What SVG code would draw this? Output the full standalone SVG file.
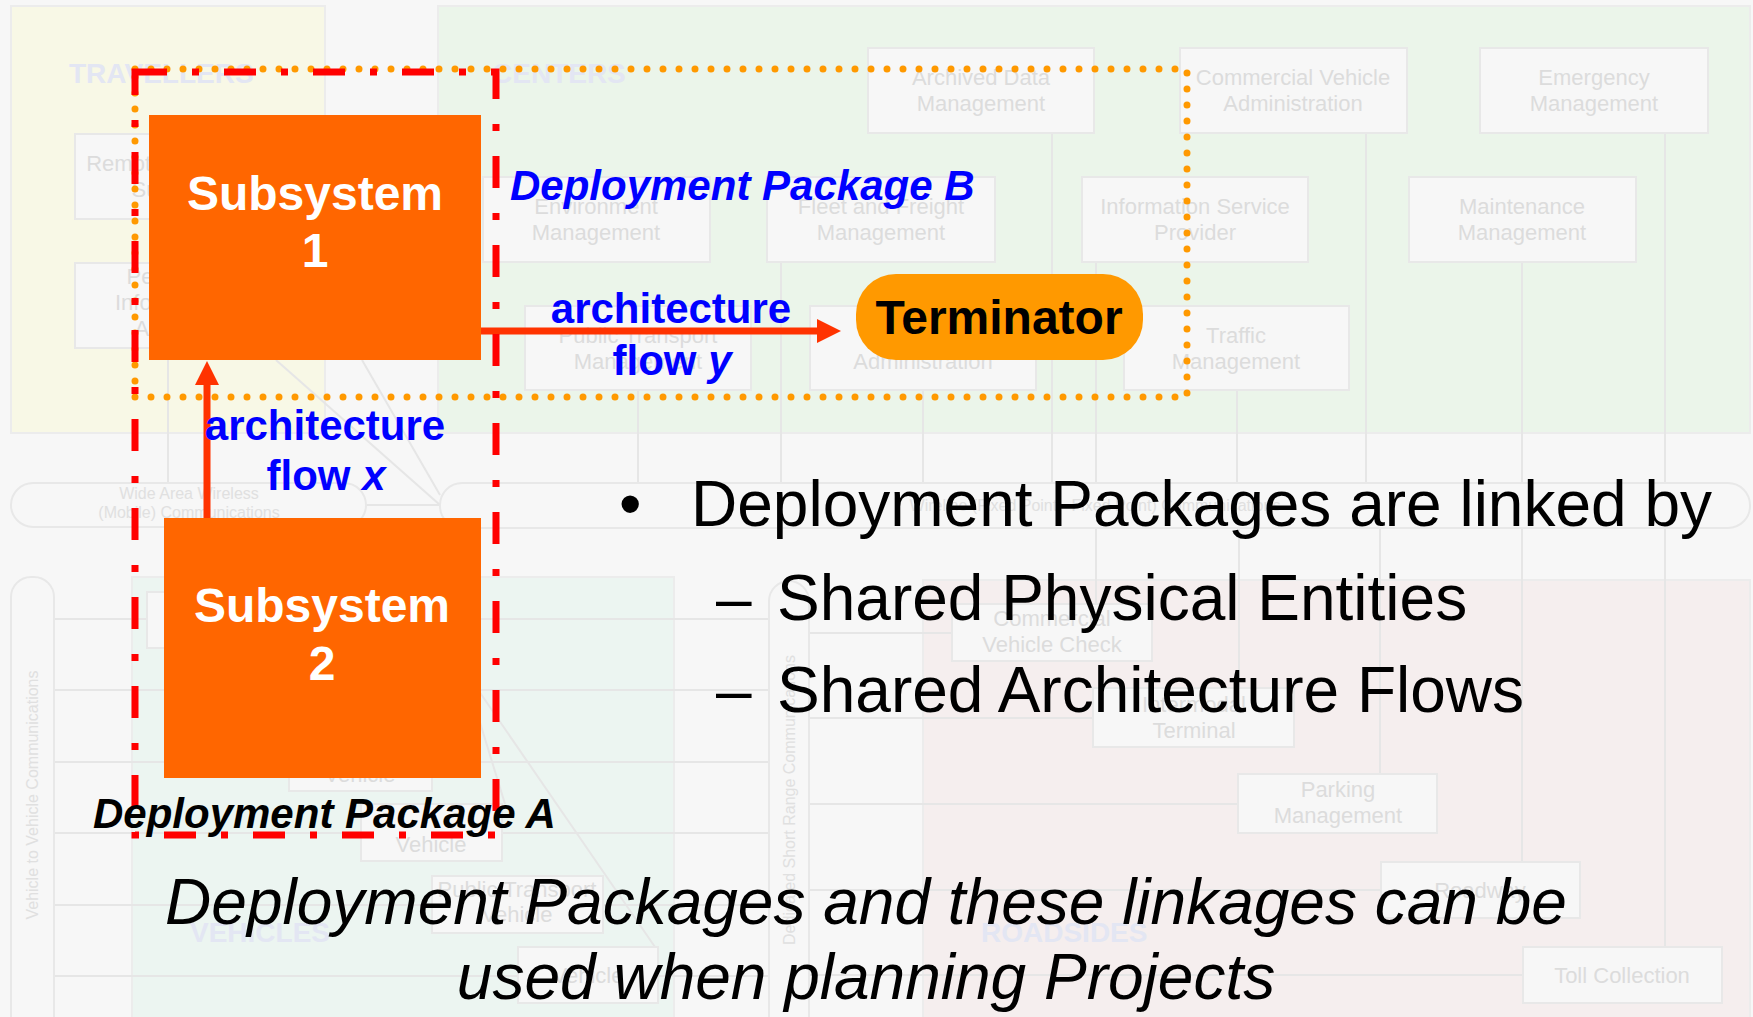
<svg xmlns="http://www.w3.org/2000/svg" width="1753" height="1017" viewBox="0 0 1753 1017">
<defs>
<style>
text{font-family:'Liberation Sans',Arial,Helvetica,sans-serif}
.panel{stroke:#ececec;stroke-width:2}
.bx{fill:#f7f7f7;stroke:#e8e8e8;stroke-width:2}
.band{fill:#f7f7f7;stroke:#e8e8e8;stroke-width:2}
.bt{font-size:22px;fill:#dcdcdc;text-anchor:middle}
.ct{font-size:16px;fill:#e0e0e0;text-anchor:middle}
.ln{stroke:#e6e6e6;stroke-width:2;fill:none}
.sec{font-size:28px;font-weight:bold;fill:#e3e6f3}
.sub{fill:#ff6600}
.subt{font-size:48px;font-weight:bold;fill:#ffffff;text-anchor:middle}
.flow{font-size:42px;font-weight:bold;fill:#0000ff;text-anchor:middle}
.conn{stroke:#ff3300;stroke-width:7;fill:none}
.body{font-size:64px;fill:#000000}
</style>
<marker id="ah" markerUnits="userSpaceOnUse" markerWidth="24" markerHeight="24" refX="0" refY="12" orient="auto"><path d="M0,0 L24,12 L0,24 z" fill="#ff3300"/></marker>
</defs>

<g id="background">
<rect x="0" y="0" width="1753" height="1017" fill="#f7f7f7"/>
<rect class="panel" x="11" y="6" width="314" height="427" fill="#f8f8e6"/>
<rect class="panel" x="438" y="6" width="1312" height="427" fill="#ebf5ea"/>
<rect class="panel" x="132" y="577" width="542" height="445" fill="#ecf5f1"/>
<rect class="panel" x="923" y="580" width="827" height="440" fill="#f5eeee"/>

<g class="ln">
<line x1="168" y1="348" x2="168" y2="483"/>
<line x1="638" y1="390" x2="638" y2="483"/>
<line x1="923" y1="390" x2="923" y2="483"/>
<line x1="1237" y1="390" x2="1237" y2="483"/>
<line x1="781" y1="262" x2="781" y2="483"/>
<line x1="1096" y1="262" x2="1096" y2="483"/>
<line x1="1522" y1="262" x2="1522" y2="483"/>
<line x1="1052" y1="133" x2="1052" y2="483"/>
<line x1="1366" y1="133" x2="1366" y2="483"/>
<line x1="1665" y1="133" x2="1665" y2="483"/>
<line x1="276" y1="360" x2="440" y2="505"/>
<line x1="362" y1="360" x2="440" y2="495"/>
<line x1="366" y1="505" x2="440" y2="505"/>
<line x1="366" y1="527" x2="655" y2="947"/>
<line x1="420" y1="527" x2="505" y2="804"/>
<line x1="54" y1="619" x2="769" y2="619"/>
<line x1="54" y1="690" x2="769" y2="690"/>
<line x1="54" y1="762" x2="769" y2="762"/>
<line x1="54" y1="833" x2="769" y2="833"/>
<line x1="54" y1="905" x2="769" y2="905"/>
<line x1="54" y1="976" x2="769" y2="976"/>
<line x1="809" y1="633" x2="952" y2="633"/>
<line x1="809" y1="718" x2="1093" y2="718"/>
<line x1="809" y1="804" x2="1238" y2="804"/>
<line x1="809" y1="890" x2="1381" y2="890"/>
<line x1="809" y1="975" x2="1523" y2="975"/>
<line x1="1096" y1="528" x2="1096" y2="604"/>
<line x1="1239" y1="528" x2="1239" y2="688"/>
<line x1="1380" y1="528" x2="1380" y2="774"/>
<line x1="1522" y1="528" x2="1522" y2="862"/>
<line x1="1665" y1="528" x2="1665" y2="947"/>
</g>

<rect class="band" x="11" y="483" width="355" height="44" rx="22"/>
<rect class="band" x="440" y="483" width="1310" height="45" rx="22"/>
<rect class="band" x="11" y="577" width="43" height="460" rx="20"/>
<rect class="band" x="769" y="581" width="40" height="460" rx="20"/>
<text class="ct" x="189" y="499">Wide Area Wireless</text>
<text class="ct" x="189" y="518">(Mobile) Communications</text>
<text class="ct" x="1095" y="511">Wireline (Fixed Point - Fixed Point) Communications</text>
<text class="ct" transform="translate(38,795) rotate(-90)">Vehicle to Vehicle Communications</text>
<text class="ct" transform="translate(795,800) rotate(-90)">Dedicated Short Range Communications</text>

<text class="sec" x="69" y="83">TRAVELLERS</text>
<text class="sec" x="492" y="83">CENTERS</text>
<text class="sec" x="190" y="942">VEHICLES</text>
<text class="sec" x="981" y="942">ROADSIDES</text>

<rect class="bx" x="75" y="134" width="190" height="85"/>
<text class="bt" x="170" y="171">Remote Traveller</text>
<text class="bt" x="170" y="197">Support</text>
<rect class="bx" x="75" y="263" width="190" height="85"/>
<text class="bt" x="170" y="284">Personal</text>
<text class="bt" x="170" y="310">Information</text>
<text class="bt" x="170" y="336">Access</text>

<rect class="bx" x="868" y="48" width="226" height="85"/>
<text class="bt" x="981" y="85">Archived Data</text>
<text class="bt" x="981" y="111">Management</text>
<rect class="bx" x="1180" y="48" width="227" height="85"/>
<text class="bt" x="1293" y="85">Commercial Vehicle</text>
<text class="bt" x="1293" y="111">Administration</text>
<rect class="bx" x="1480" y="48" width="228" height="85"/>
<text class="bt" x="1594" y="85">Emergency</text>
<text class="bt" x="1594" y="111">Management</text>
<rect class="bx" x="483" y="177" width="227" height="85"/>
<text class="bt" x="596" y="214">Environment</text>
<text class="bt" x="596" y="240">Management</text>
<rect class="bx" x="767" y="177" width="228" height="85"/>
<text class="bt" x="881" y="214">Fleet and Freight</text>
<text class="bt" x="881" y="240">Management</text>
<rect class="bx" x="1082" y="177" width="226" height="85"/>
<text class="bt" x="1195" y="214">Information Service</text>
<text class="bt" x="1195" y="240">Provider</text>
<rect class="bx" x="1409" y="177" width="227" height="85"/>
<text class="bt" x="1522" y="214">Maintenance</text>
<text class="bt" x="1522" y="240">Management</text>
<rect class="bx" x="525" y="306" width="226" height="84"/>
<text class="bt" x="638" y="343">Public Transport</text>
<text class="bt" x="638" y="369">Management</text>
<rect class="bx" x="810" y="306" width="226" height="84"/>
<text class="bt" x="923" y="369">Administration</text>
<rect class="bx" x="1124" y="306" width="225" height="84"/>
<text class="bt" x="1236" y="343">Traffic</text>
<text class="bt" x="1236" y="369">Management</text>

<rect class="bx" x="147" y="592" width="150" height="56"/>
<rect class="bx" x="289" y="735" width="143" height="56"/>
<text class="bt" x="360" y="782">Vehicle</text>
<rect class="bx" x="361" y="804" width="141" height="57"/>
<text class="bt" x="431" y="852">Vehicle</text>
<rect class="bx" x="432" y="876" width="171" height="57"/>
<text class="bt" x="517" y="897">Public Transport</text>
<text class="bt" x="517" y="922">Vehicle</text>
<rect class="bx" x="518" y="947" width="140" height="56"/>
<text class="bt" x="588" y="983">Vehicle</text>

<rect class="bx" x="952" y="604" width="200" height="57"/>
<text class="bt" x="1052" y="626">Commercial</text>
<text class="bt" x="1052" y="652">Vehicle Check</text>
<rect class="bx" x="1093" y="688" width="201" height="59"/>
<text class="bt" x="1194" y="712">Intermodal</text>
<text class="bt" x="1194" y="738">Terminal</text>
<rect class="bx" x="1238" y="774" width="199" height="59"/>
<text class="bt" x="1338" y="797">Parking</text>
<text class="bt" x="1338" y="823">Management</text>
<rect class="bx" x="1381" y="862" width="199" height="56"/>
<text class="bt" x="1480" y="898">Roadway</text>
<rect class="bx" x="1523" y="947" width="199" height="56"/>
<text class="bt" x="1622" y="983">Toll Collection</text>
</g>

<g id="connectors">
<line class="conn" x1="207" y1="518" x2="207" y2="385" marker-end="url(#ah)"/>
<line class="conn" x1="481" y1="331" x2="817" y2="331" marker-end="url(#ah)"/>
</g>

<g id="packageB">
<rect x="135" y="69" width="1052" height="328" fill="none" stroke="#ff9900" stroke-width="7" stroke-dasharray="0 16" stroke-linecap="round"/>
</g>

<g id="packageA">
<rect x="135" y="72" width="361" height="763" fill="none" stroke="#ff0000" stroke-width="7" stroke-dasharray="32 25 7 25"/>
</g>

<g id="subsystem1">
<rect class="sub" x="149" y="115" width="332" height="245"/>
<text class="subt" x="315" y="210">Subsystem</text>
<text class="subt" x="315" y="267">1</text>
</g>

<g id="subsystem2">
<rect class="sub" x="164" y="518" width="317" height="260"/>
<text class="subt" x="322" y="622">Subsystem</text>
<text class="subt" x="322" y="680">2</text>
</g>

<g id="terminator">
<rect x="856" y="274" width="287" height="86" rx="40" fill="#ff9900"/>
<text x="999" y="334" font-size="48" font-weight="bold" fill="#000000" text-anchor="middle">Terminator</text>
</g>

<g id="labels">
<text class="flow" x="325" y="440">architecture</text>
<text class="flow" x="326" y="490">flow <tspan font-style="italic">x</tspan></text>
<text class="flow" x="671" y="323">architecture</text>
<text class="flow" x="672" y="375">flow <tspan font-style="italic">y</tspan></text>
<text x="510" y="200" font-size="42" font-weight="bold" font-style="italic" fill="#0000ff">Deployment Package B</text>
<text x="93" y="828" font-size="42" font-weight="bold" font-style="italic" fill="#000000">Deployment Package A</text>
</g>

<g id="bullets">
<text class="body" x="619" y="526">•</text>
<text class="body" x="691" y="526">Deployment Packages are linked by</text>
<text class="body" x="716" y="620">–</text>
<text class="body" x="777" y="620">Shared Physical Entities</text>
<text class="body" x="716" y="712">–</text>
<text class="body" x="777" y="712">Shared Architecture Flows</text>
</g>

<g id="footer">
<text class="body" x="866" y="924" font-style="italic" text-anchor="middle">Deployment Packages and these linkages can be</text>
<text class="body" x="866" y="999" font-style="italic" text-anchor="middle">used when planning Projects</text>
</g>
</svg>
